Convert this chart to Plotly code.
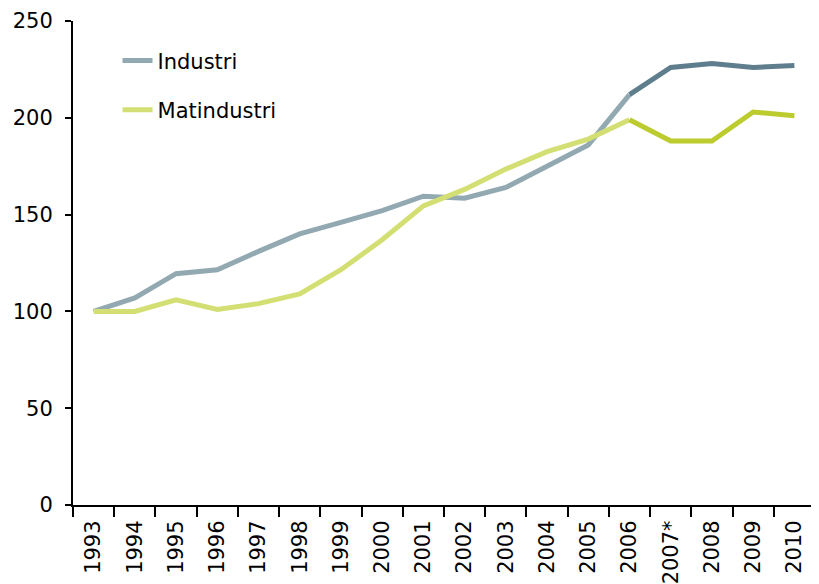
import plotly.graph_objects as go

years = ["1993", "1994", "1995", "1996", "1997", "1998", "1999", "2000", "2001",
         "2002", "2003", "2004", "2005", "2006", "2007*", "2008", "2009", "2010"]
industri = [100, 107, 119.5, 121.5, 131, 140, 146, 152, 159.5,
            158.5, 164, 175, 186, 212, 226, 228, 226, 227]
matindustri = [100, 100, 106, 101, 104, 109, 121.5, 137, 154.5,
               163, 173.5, 182.5, 189, 199, 188, 188, 203, 201]
split_year = "2006"

k = years.index(split_year)

fig = go.Figure()
fig.add_trace(go.Scatter(x=years[:k + 1], y=industri[:k + 1], mode="lines", name="Industri",
                         legendgroup="a", line=dict(color="#93A9B2", width=5)))
fig.add_trace(go.Scatter(x=years[k:], y=industri[k:], mode="lines", showlegend=False,
                         legendgroup="a", line=dict(color="#5F7E8D", width=5)))
fig.add_trace(go.Scatter(x=years[:k + 1], y=matindustri[:k + 1], mode="lines", name="Matindustri",
                         legendgroup="b", line=dict(color="#D3DF72", width=5)))
fig.add_trace(go.Scatter(x=years[k:], y=matindustri[k:], mode="lines", showlegend=False,
                         legendgroup="b", line=dict(color="#BCCB2D", width=5)))

font_family = "DejaVu Sans, sans-serif"

# page body has an 8px default margin, so the figure is 8px smaller
fig.update_layout(
    width=811, height=576,
    margin=dict(l=65, r=4, t=13, b=79),
    paper_bgcolor="white", plot_bgcolor="white",
    font=dict(family=font_family, size=21, color="black"),
    legend=dict(x=0.06, y=0.96, xanchor="left", yanchor="top",
                font=dict(size=21), tracegroupgap=19, bgcolor="rgba(0,0,0,0)",
                traceorder="grouped"),
    xaxis=dict(type="category", categoryorder="array", categoryarray=years,
               range=[-0.5, len(years) - 0.5],
               showline=True, linecolor="black", linewidth=2,
               ticks="outside", tickson="boundaries", ticklen=10, tickwidth=2, tickcolor="black",
               tickangle=-90, showgrid=False, zeroline=False,
               ticklabelstandoff=5, automargin=False,
               tickfont=dict(size=21)),
    yaxis=dict(range=[0, 250], dtick=50, showline=True, linecolor="black", linewidth=2,
               ticks="outside", ticklen=6, tickwidth=2, tickcolor="black",
               ticklabelstandoff=8, automargin=False,
               showgrid=False, zeroline=False, tickfont=dict(size=21)),
)

fig.write_html("out.html")
